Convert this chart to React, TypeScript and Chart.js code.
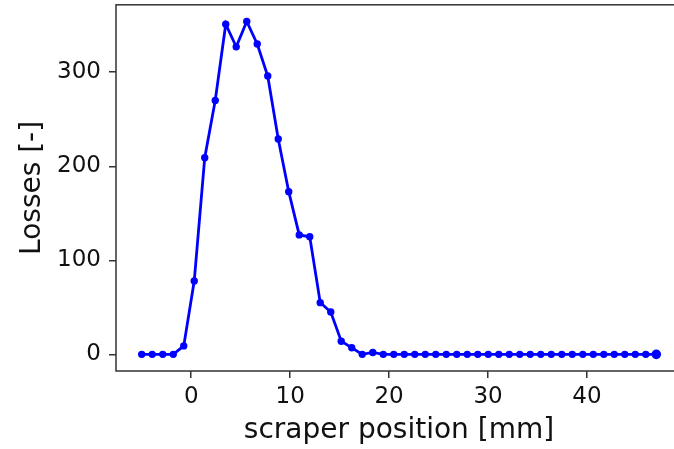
import { useEffect, useRef } from "react";
import { Chart, registerables } from "chart.js";

Chart.register(...registerables);

// scraper positions [mm]
const positionsMm = [
  -5, -3.939, -2.878, -1.816, -0.755, 0.306, 1.367, 2.429, 3.49, 4.551,
  5.612, 6.673, 7.735, 8.796, 9.857, 10.918, 11.98, 13.041, 14.102, 15.163,
  16.224, 17.286, 18.347, 19.408, 20.469, 21.531, 22.592, 23.653, 24.714, 25.776,
  26.837, 27.898, 28.959, 30.02, 31.082, 32.143, 33.204, 34.265, 35.327, 36.388,
  37.449, 38.51, 39.571, 40.633, 41.694, 42.755, 43.816, 44.878, 45.939, 47.0,
];

// losses [-]
const losses = [
  0, 0, 0, 0, 9, 78, 209, 270, 351, 327,
  354, 330, 296, 229, 173, 127, 125, 55, 45, 14,
  7, 0, 2, 0, 0, 0, 0, 0, 0, 0,
  0, 0, 0, 0, 0, 0, 0, 0, 0, 0,
  0, 0, 0, 0, 0, 0, 0, 0, 0, 0,
];

const xTicks = [0, 10, 20, 30, 40];
const yTicks = [0, 100, 200, 300];

const xRange = { min: -7.6, max: 49.6 };
const yRange = { min: -17.7, max: 371.7 };

const xTitle = "scraper position [mm]";
const yTitle = "Losses [-]";

const FONT = "'DejaVu Sans', sans-serif";

const boxPlugin = {
  id: "boxPlugin",
  afterDraw(chart: any) {
    const { ctx, chartArea } = chart;
    ctx.save();
    ctx.strokeStyle = "#333";
    ctx.lineWidth = 1.5;
    ctx.strokeRect(chartArea.left, chartArea.top, chartArea.right - chartArea.left, chartArea.bottom - chartArea.top);
    ctx.restore();
  },
};

export default function App() {
  const ref = useRef<HTMLCanvasElement | null>(null);

  useEffect(() => {
    if (!ref.current) return;
    const data = positionsMm.map((x, i) => ({ x, y: losses[i] }));
    const chart = new Chart(ref.current, {
      type: "line",
      data: {
        datasets: [
          {
            data,
            borderColor: "#0000ff",
            backgroundColor: "#0000ff",
            borderWidth: 2.8,
            pointRadius: (c: any) => (c.dataIndex === positionsMm.length - 1 ? 4.8 : 3.7),
            pointBorderWidth: 0,
            pointHoverRadius: 3.7,
            tension: 0,
            fill: false,
          },
        ],
      },
      plugins: [boxPlugin],
      options: {
        animation: false,
        responsive: false,
        devicePixelRatio: 1,
        layout: { padding: { top: 3, right: 8, left: 0, bottom: 0 } },
        plugins: { legend: { display: false }, tooltip: { enabled: false } },
        scales: {
          x: {
            type: "linear",
            min: xRange.min,
            max: xRange.max,
            afterBuildTicks: (s: any) => {
              s.ticks = xTicks.map((v) => ({ value: v }));
            },
            afterFit: (s: any) => {
              s.height = 78;
              s.paddingLeft = 0;
              s.paddingRight = 0;
              s.paddingTop = 0;
              s.paddingBottom = 0;
            },
            grid: { drawOnChartArea: false, drawTicks: true, tickLength: 7, color: "#333", lineWidth: 1.5 },
            border: { display: false },
            ticks: { font: { family: FONT, size: 23 }, color: "#111", padding: 5, maxRotation: 0 },
            title: { display: true, text: xTitle, font: { family: FONT, size: 28 }, color: "#111", padding: { top: 0, bottom: 1 } },
          },
          y: {
            type: "linear",
            min: yRange.min,
            max: yRange.max,
            afterBuildTicks: (s: any) => {
              s.ticks = yTicks.map((v) => ({ value: v }));
            },
            afterFit: (s: any) => {
              s.width = 116;
              s.paddingLeft = 0;
              s.paddingRight = 0;
              s.paddingTop = 0;
              s.paddingBottom = 0;
            },
            grid: { drawOnChartArea: false, drawTicks: true, tickLength: 7, color: "#333", lineWidth: 1.5 },
            border: { display: false },
            ticks: { font: { family: FONT, size: 23 }, color: "#111", padding: 8 },
            title: { display: true, text: yTitle, font: { family: FONT, size: 28 }, color: "#111", padding: { top: 16, bottom: 0 } },
          },
        },
      },
    } as any);
    return () => chart.destroy();
  }, []);

  return (
    <div style={{ position: "fixed", left: 0, top: 0, width: 674, height: 449, overflow: "hidden", background: "#fff" }}>
      <canvas ref={ref} width={690} height={449} style={{ display: "block", width: 690, height: 449 }} />
    </div>
  );
}
